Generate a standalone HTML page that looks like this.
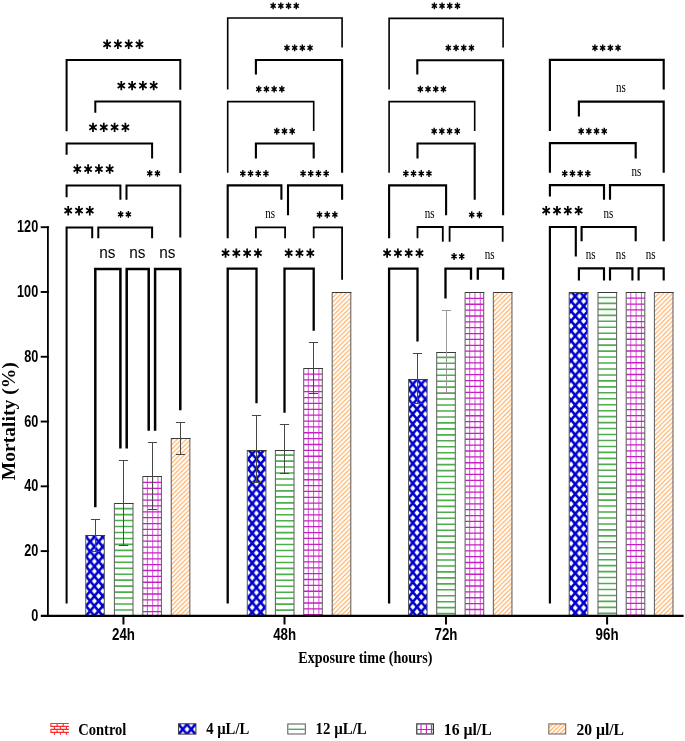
<!DOCTYPE html><html><head><meta charset="utf-8"><style>html,body{margin:0;padding:0;background:#fff;overflow:hidden}svg{display:block;will-change:transform}</style></head><body><svg width="685" height="741" viewBox="0 0 685 741"><defs><pattern id="pB0" patternUnits="userSpaceOnUse" x="86.000" y="541.655" width="8.4" height="9.89"><rect width="8.4" height="9.89" fill="#0000cc"/><path d="M4.200 1.978L6.720 4.945L4.200 7.912L1.680 4.945ZM0.000 -2.967L2.520 0.000L0.000 2.967L-2.520 0.000ZM8.400 -2.967L10.920 0.000L8.400 2.967L5.880 0.000ZM0.000 6.923L2.520 9.890L0.000 12.857L-2.520 9.890ZM8.400 6.923L10.920 9.890L8.400 12.857L5.880 9.890Z" fill="#fff"/></pattern><pattern id="pB1" patternUnits="userSpaceOnUse" x="248.000" y="454.055" width="8.4" height="9.89"><rect width="8.4" height="9.89" fill="#0000cc"/><path d="M4.200 1.978L6.720 4.945L4.200 7.912L1.680 4.945ZM0.000 -2.967L2.520 0.000L0.000 2.967L-2.520 0.000ZM8.400 -2.967L10.920 0.000L8.400 2.967L5.880 0.000ZM0.000 6.923L2.520 9.890L0.000 12.857L-2.520 9.890ZM8.400 6.923L10.920 9.890L8.400 12.857L5.880 9.890Z" fill="#fff"/></pattern><pattern id="pB2" patternUnits="userSpaceOnUse" x="408.600" y="384.355" width="8.4" height="9.89"><rect width="8.4" height="9.89" fill="#0000cc"/><path d="M4.200 1.978L6.720 4.945L4.200 7.912L1.680 4.945ZM0.000 -2.967L2.520 0.000L0.000 2.967L-2.520 0.000ZM8.400 -2.967L10.920 0.000L8.400 2.967L5.880 0.000ZM0.000 6.923L2.520 9.890L0.000 12.857L-2.520 9.890ZM8.400 6.923L10.920 9.890L8.400 12.857L5.880 9.890Z" fill="#fff"/></pattern><pattern id="pB3" patternUnits="userSpaceOnUse" x="571.050" y="306.155" width="8.4" height="9.89"><rect width="8.4" height="9.89" fill="#0000cc"/><path d="M4.200 1.978L6.720 4.945L4.200 7.912L1.680 4.945ZM0.000 -2.967L2.520 0.000L0.000 2.967L-2.520 0.000ZM8.400 -2.967L10.920 0.000L8.400 2.967L5.880 0.000ZM0.000 6.923L2.520 9.890L0.000 12.857L-2.520 9.890ZM8.400 6.923L10.920 9.890L8.400 12.857L5.880 9.890Z" fill="#fff"/></pattern><pattern id="pBL" patternUnits="userSpaceOnUse" x="182.800" y="724.355" width="8.4" height="9.89"><rect width="8.4" height="9.89" fill="#0000cc"/><path d="M4.200 1.978L6.720 4.945L4.200 7.912L1.680 4.945ZM0.000 -2.967L2.520 0.000L0.000 2.967L-2.520 0.000ZM8.400 -2.967L10.920 0.000L8.400 2.967L5.880 0.000ZM0.000 6.923L2.520 9.890L0.000 12.857L-2.520 9.890ZM8.400 6.923L10.920 9.890L8.400 12.857L5.880 9.890Z" fill="#fff"/></pattern><pattern id="pO" patternUnits="userSpaceOnUse" width="4.6" height="4.6"><rect width="4.6" height="4.6" fill="#fff"/><path d="M-1 1L1 -1M0 4.6L4.6 0M3.6 5.6L5.6 3.6" stroke="#ffa044" stroke-width="0.95"/></pattern><pattern id="pOL" patternUnits="userSpaceOnUse" width="4.2" height="4.2"><rect width="4.2" height="4.2" fill="#fff"/><path d="M-1 1L1 -1M0 4.2L4.2 0M3.2 5.2L5.2 3.2" stroke="#ffa850" stroke-width="1.1"/></pattern></defs><rect width="685" height="741" fill="#fff"/><rect x="85.75" y="535.20" width="18.6" height="80.70" fill="url(#pB0)"/><path d="M85.75 535.20V615.90" stroke="#606060" stroke-width="1.05"/><path d="M104.35 535.20V615.90" stroke="#606060" stroke-width="1.05"/><path d="M85.55 535.50H105.05" stroke="#3a3a3a" stroke-width="1.05"/><rect x="114.40" y="503.50" width="18.6" height="112.40" fill="#fff"/><path d="M114.40 508.65H133.00M114.40 514.61H133.00M114.40 520.57H133.00M114.40 526.53H133.00M114.40 532.49H133.00M114.40 538.45H133.00M114.40 544.41H133.00M114.40 550.37H133.00M114.40 556.33H133.00M114.40 562.29H133.00M114.40 568.25H133.00M114.40 574.21H133.00M114.40 580.17H133.00M114.40 586.13H133.00M114.40 592.09H133.00M114.40 598.05H133.00M114.40 604.01H133.00M114.40 609.97H133.00" stroke="#4caf4c" stroke-width="1.6"/><path d="M114.40 503.50V615.90" stroke="#606060" stroke-width="1.05"/><path d="M133.00 503.50V615.90" stroke="#606060" stroke-width="1.05"/><path d="M114.20 503.50H133.70" stroke="#3a3a3a" stroke-width="1.05"/><rect x="142.80" y="476.60" width="18.6" height="139.30" fill="#fff"/><path d="M147.40 476.60V615.90M152.70 476.60V615.90M158.00 476.60V615.90" stroke="#c81ec8" stroke-width="0.95" opacity="0.8"/><path d="M142.80 482.47H161.40M142.80 488.34H161.40M142.80 494.21H161.40M142.80 500.08H161.40M142.80 505.95H161.40M142.80 511.82H161.40M142.80 517.69H161.40M142.80 523.56H161.40M142.80 529.43H161.40M142.80 535.30H161.40M142.80 541.17H161.40M142.80 547.04H161.40M142.80 552.91H161.40M142.80 558.78H161.40M142.80 564.65H161.40M142.80 570.52H161.40M142.80 576.39H161.40M142.80 582.26H161.40M142.80 588.13H161.40M142.80 594.00H161.40M142.80 599.87H161.40M142.80 605.74H161.40M142.80 611.61H161.40" stroke="#c81ec8" stroke-width="1.3"/><path d="M142.80 476.60V615.90" stroke="#606060" stroke-width="1.05"/><path d="M161.40 476.60V615.90" stroke="#606060" stroke-width="1.05"/><path d="M142.60 476.50H162.10" stroke="#3a3a3a" stroke-width="1.05"/><rect x="171.25" y="438.20" width="18.6" height="177.70" fill="url(#pO)"/><path d="M171.25 438.20V615.90" stroke="#606060" stroke-width="1.05"/><path d="M189.85 438.20V615.90" stroke="#606060" stroke-width="1.05"/><path d="M171.05 438.50H190.55" stroke="#3a3a3a" stroke-width="1.05"/><rect x="247.30" y="450.00" width="18.6" height="165.90" fill="url(#pB1)"/><path d="M247.30 450.00V615.90" stroke="#606060" stroke-width="1.05"/><path d="M265.90 450.00V615.90" stroke="#606060" stroke-width="1.05"/><path d="M247.10 450.50H266.60" stroke="#3a3a3a" stroke-width="1.05"/><rect x="275.40" y="450.00" width="18.6" height="165.90" fill="#fff"/><path d="M275.40 455.15H294.00M275.40 461.11H294.00M275.40 467.07H294.00M275.40 473.03H294.00M275.40 478.99H294.00M275.40 484.95H294.00M275.40 490.91H294.00M275.40 496.87H294.00M275.40 502.83H294.00M275.40 508.79H294.00M275.40 514.75H294.00M275.40 520.71H294.00M275.40 526.67H294.00M275.40 532.63H294.00M275.40 538.59H294.00M275.40 544.55H294.00M275.40 550.51H294.00M275.40 556.47H294.00M275.40 562.43H294.00M275.40 568.39H294.00M275.40 574.35H294.00M275.40 580.31H294.00M275.40 586.27H294.00M275.40 592.23H294.00M275.40 598.19H294.00M275.40 604.15H294.00M275.40 610.11H294.00" stroke="#4caf4c" stroke-width="1.6"/><path d="M275.40 450.00V615.90" stroke="#606060" stroke-width="1.05"/><path d="M294.00 450.00V615.90" stroke="#606060" stroke-width="1.05"/><path d="M275.20 450.50H294.70" stroke="#3a3a3a" stroke-width="1.05"/><rect x="303.70" y="368.20" width="18.6" height="247.70" fill="#fff"/><path d="M308.30 368.20V615.90M313.60 368.20V615.90M318.90 368.20V615.90" stroke="#c81ec8" stroke-width="0.95" opacity="0.8"/><path d="M303.70 374.07H322.30M303.70 379.94H322.30M303.70 385.81H322.30M303.70 391.68H322.30M303.70 397.55H322.30M303.70 403.42H322.30M303.70 409.29H322.30M303.70 415.16H322.30M303.70 421.03H322.30M303.70 426.90H322.30M303.70 432.77H322.30M303.70 438.64H322.30M303.70 444.51H322.30M303.70 450.38H322.30M303.70 456.25H322.30M303.70 462.12H322.30M303.70 467.99H322.30M303.70 473.86H322.30M303.70 479.73H322.30M303.70 485.60H322.30M303.70 491.47H322.30M303.70 497.34H322.30M303.70 503.21H322.30M303.70 509.08H322.30M303.70 514.95H322.30M303.70 520.82H322.30M303.70 526.69H322.30M303.70 532.56H322.30M303.70 538.43H322.30M303.70 544.30H322.30M303.70 550.17H322.30M303.70 556.04H322.30M303.70 561.91H322.30M303.70 567.78H322.30M303.70 573.65H322.30M303.70 579.52H322.30M303.70 585.39H322.30M303.70 591.26H322.30M303.70 597.13H322.30M303.70 603.00H322.30M303.70 608.87H322.30M303.70 614.74H322.30" stroke="#c81ec8" stroke-width="1.3"/><path d="M303.70 368.20V615.90" stroke="#606060" stroke-width="1.05"/><path d="M322.30 368.20V615.90" stroke="#606060" stroke-width="1.05"/><path d="M303.50 368.50H323.00" stroke="#3a3a3a" stroke-width="1.05"/><rect x="332.20" y="292.50" width="18.6" height="323.40" fill="url(#pO)"/><path d="M332.20 292.50V615.90" stroke="#606060" stroke-width="1.05"/><path d="M350.80 292.50V615.90" stroke="#606060" stroke-width="1.05"/><path d="M332.00 292.50H351.50" stroke="#3a3a3a" stroke-width="1.05"/><rect x="408.50" y="379.40" width="18.6" height="236.50" fill="url(#pB2)"/><path d="M408.50 379.40V615.90" stroke="#606060" stroke-width="1.05"/><path d="M427.10 379.40V615.90" stroke="#606060" stroke-width="1.05"/><path d="M408.30 379.50H427.80" stroke="#3a3a3a" stroke-width="1.05"/><rect x="436.70" y="352.20" width="18.6" height="263.70" fill="#fff"/><path d="M436.70 357.35H455.30M436.70 363.31H455.30M436.70 369.27H455.30M436.70 375.23H455.30M436.70 381.19H455.30M436.70 387.15H455.30M436.70 393.11H455.30M436.70 399.07H455.30M436.70 405.03H455.30M436.70 410.99H455.30M436.70 416.95H455.30M436.70 422.91H455.30M436.70 428.87H455.30M436.70 434.83H455.30M436.70 440.79H455.30M436.70 446.75H455.30M436.70 452.71H455.30M436.70 458.67H455.30M436.70 464.63H455.30M436.70 470.59H455.30M436.70 476.55H455.30M436.70 482.51H455.30M436.70 488.47H455.30M436.70 494.43H455.30M436.70 500.39H455.30M436.70 506.35H455.30M436.70 512.31H455.30M436.70 518.27H455.30M436.70 524.23H455.30M436.70 530.19H455.30M436.70 536.15H455.30M436.70 542.11H455.30M436.70 548.07H455.30M436.70 554.03H455.30M436.70 559.99H455.30M436.70 565.95H455.30M436.70 571.91H455.30M436.70 577.87H455.30M436.70 583.83H455.30M436.70 589.79H455.30M436.70 595.75H455.30M436.70 601.71H455.30M436.70 607.67H455.30M436.70 613.63H455.30" stroke="#4caf4c" stroke-width="1.6"/><path d="M436.70 352.20V615.90" stroke="#606060" stroke-width="1.05"/><path d="M455.30 352.20V615.90" stroke="#606060" stroke-width="1.05"/><path d="M436.50 352.50H456.00" stroke="#3a3a3a" stroke-width="1.05"/><rect x="465.10" y="292.50" width="18.6" height="323.40" fill="#fff"/><path d="M469.70 292.50V615.90M475.00 292.50V615.90M480.30 292.50V615.90" stroke="#c81ec8" stroke-width="0.95" opacity="0.8"/><path d="M465.10 298.37H483.70M465.10 304.24H483.70M465.10 310.11H483.70M465.10 315.98H483.70M465.10 321.85H483.70M465.10 327.72H483.70M465.10 333.59H483.70M465.10 339.46H483.70M465.10 345.33H483.70M465.10 351.20H483.70M465.10 357.07H483.70M465.10 362.94H483.70M465.10 368.81H483.70M465.10 374.68H483.70M465.10 380.55H483.70M465.10 386.42H483.70M465.10 392.29H483.70M465.10 398.16H483.70M465.10 404.03H483.70M465.10 409.90H483.70M465.10 415.77H483.70M465.10 421.64H483.70M465.10 427.51H483.70M465.10 433.38H483.70M465.10 439.25H483.70M465.10 445.12H483.70M465.10 450.99H483.70M465.10 456.86H483.70M465.10 462.73H483.70M465.10 468.60H483.70M465.10 474.47H483.70M465.10 480.34H483.70M465.10 486.21H483.70M465.10 492.08H483.70M465.10 497.95H483.70M465.10 503.82H483.70M465.10 509.69H483.70M465.10 515.56H483.70M465.10 521.43H483.70M465.10 527.30H483.70M465.10 533.17H483.70M465.10 539.04H483.70M465.10 544.91H483.70M465.10 550.78H483.70M465.10 556.65H483.70M465.10 562.52H483.70M465.10 568.39H483.70M465.10 574.26H483.70M465.10 580.13H483.70M465.10 586.00H483.70M465.10 591.87H483.70M465.10 597.74H483.70M465.10 603.61H483.70M465.10 609.48H483.70M465.10 615.35H483.70" stroke="#c81ec8" stroke-width="1.3"/><path d="M465.10 292.50V615.90" stroke="#606060" stroke-width="1.05"/><path d="M483.70 292.50V615.90" stroke="#606060" stroke-width="1.05"/><path d="M464.90 292.50H484.40" stroke="#3a3a3a" stroke-width="1.05"/><rect x="493.35" y="292.50" width="18.6" height="323.40" fill="url(#pO)"/><path d="M493.35 292.50V615.90" stroke="#606060" stroke-width="1.05"/><path d="M511.95 292.50V615.90" stroke="#606060" stroke-width="1.05"/><path d="M493.15 292.50H512.65" stroke="#3a3a3a" stroke-width="1.05"/><rect x="569.20" y="292.30" width="18.6" height="323.60" fill="url(#pB3)"/><path d="M569.20 292.30V615.90" stroke="#606060" stroke-width="1.05"/><path d="M587.80 292.30V615.90" stroke="#606060" stroke-width="1.05"/><path d="M569.00 292.50H588.50" stroke="#3a3a3a" stroke-width="1.05"/><rect x="598.00" y="292.30" width="18.6" height="323.60" fill="#fff"/><path d="M598.00 297.45H616.60M598.00 303.41H616.60M598.00 309.37H616.60M598.00 315.33H616.60M598.00 321.29H616.60M598.00 327.25H616.60M598.00 333.21H616.60M598.00 339.17H616.60M598.00 345.13H616.60M598.00 351.09H616.60M598.00 357.05H616.60M598.00 363.01H616.60M598.00 368.97H616.60M598.00 374.93H616.60M598.00 380.89H616.60M598.00 386.85H616.60M598.00 392.81H616.60M598.00 398.77H616.60M598.00 404.73H616.60M598.00 410.69H616.60M598.00 416.65H616.60M598.00 422.61H616.60M598.00 428.57H616.60M598.00 434.53H616.60M598.00 440.49H616.60M598.00 446.45H616.60M598.00 452.41H616.60M598.00 458.37H616.60M598.00 464.33H616.60M598.00 470.29H616.60M598.00 476.25H616.60M598.00 482.21H616.60M598.00 488.17H616.60M598.00 494.13H616.60M598.00 500.09H616.60M598.00 506.05H616.60M598.00 512.01H616.60M598.00 517.97H616.60M598.00 523.93H616.60M598.00 529.89H616.60M598.00 535.85H616.60M598.00 541.81H616.60M598.00 547.77H616.60M598.00 553.73H616.60M598.00 559.69H616.60M598.00 565.65H616.60M598.00 571.61H616.60M598.00 577.57H616.60M598.00 583.53H616.60M598.00 589.49H616.60M598.00 595.45H616.60M598.00 601.41H616.60M598.00 607.37H616.60M598.00 613.33H616.60" stroke="#4caf4c" stroke-width="1.6"/><path d="M598.00 292.30V615.90" stroke="#606060" stroke-width="1.05"/><path d="M616.60 292.30V615.90" stroke="#606060" stroke-width="1.05"/><path d="M597.80 292.50H617.30" stroke="#3a3a3a" stroke-width="1.05"/><rect x="626.20" y="292.30" width="18.6" height="323.60" fill="#fff"/><path d="M630.80 292.30V615.90M636.10 292.30V615.90M641.40 292.30V615.90" stroke="#c81ec8" stroke-width="0.95" opacity="0.8"/><path d="M626.20 298.17H644.80M626.20 304.04H644.80M626.20 309.91H644.80M626.20 315.78H644.80M626.20 321.65H644.80M626.20 327.52H644.80M626.20 333.39H644.80M626.20 339.26H644.80M626.20 345.13H644.80M626.20 351.00H644.80M626.20 356.87H644.80M626.20 362.74H644.80M626.20 368.61H644.80M626.20 374.48H644.80M626.20 380.35H644.80M626.20 386.22H644.80M626.20 392.09H644.80M626.20 397.96H644.80M626.20 403.83H644.80M626.20 409.70H644.80M626.20 415.57H644.80M626.20 421.44H644.80M626.20 427.31H644.80M626.20 433.18H644.80M626.20 439.05H644.80M626.20 444.92H644.80M626.20 450.79H644.80M626.20 456.66H644.80M626.20 462.53H644.80M626.20 468.40H644.80M626.20 474.27H644.80M626.20 480.14H644.80M626.20 486.01H644.80M626.20 491.88H644.80M626.20 497.75H644.80M626.20 503.62H644.80M626.20 509.49H644.80M626.20 515.36H644.80M626.20 521.23H644.80M626.20 527.10H644.80M626.20 532.97H644.80M626.20 538.84H644.80M626.20 544.71H644.80M626.20 550.58H644.80M626.20 556.45H644.80M626.20 562.32H644.80M626.20 568.19H644.80M626.20 574.06H644.80M626.20 579.93H644.80M626.20 585.80H644.80M626.20 591.67H644.80M626.20 597.54H644.80M626.20 603.41H644.80M626.20 609.28H644.80M626.20 615.15H644.80" stroke="#c81ec8" stroke-width="1.3"/><path d="M626.20 292.30V615.90" stroke="#606060" stroke-width="1.05"/><path d="M644.80 292.30V615.90" stroke="#606060" stroke-width="1.05"/><path d="M626.00 292.50H645.50" stroke="#3a3a3a" stroke-width="1.05"/><rect x="654.40" y="292.30" width="18.6" height="323.60" fill="url(#pO)"/><path d="M654.40 292.30V615.90" stroke="#606060" stroke-width="1.05"/><path d="M673.00 292.30V615.90" stroke="#606060" stroke-width="1.05"/><path d="M654.20 292.50H673.70" stroke="#3a3a3a" stroke-width="1.05"/><path d="M95.50 519.50V551.50M90.90 519.50H100.10M90.90 551.50H100.10" stroke="#474747" stroke-width="1.0" fill="none"/><path d="M123.50 460.50V545.50M118.90 460.50H128.10M118.90 545.50H128.10" stroke="#474747" stroke-width="1.0" fill="none"/><path d="M152.50 442.50V509.50M147.90 442.50H157.10M147.90 509.50H157.10" stroke="#474747" stroke-width="1.0" fill="none"/><path d="M180.50 422.50V454.50M175.90 422.50H185.10M175.90 454.50H185.10" stroke="#474747" stroke-width="1.0" fill="none"/><path d="M256.50 415.50V482.50M251.90 415.50H261.10M251.90 482.50H261.10" stroke="#474747" stroke-width="1.0" fill="none"/><path d="M284.50 424.50V473.50M279.90 424.50H289.10M279.90 473.50H289.10" stroke="#474747" stroke-width="1.0" fill="none"/><path d="M313.50 342.50V393.50M308.90 342.50H318.10M308.90 393.50H318.10" stroke="#474747" stroke-width="1.0" fill="none"/><path d="M417.50 353.50V403.50M412.90 353.50H422.10M412.90 403.50H422.10" stroke="#474747" stroke-width="1.0" fill="none"/><path d="M446.50 310.50V392.50M441.90 310.50H451.10M441.90 392.50H451.10" stroke="#999" stroke-width="1.0" fill="none"/><path d="M66.60 131.20V60.00H180.30V89.70" stroke="#000" stroke-width="2.0" fill="none" stroke-linejoin="miter"/><path d="M107.10 39.60V49.00M103.40 41.95L110.80 46.65M103.40 46.65L110.80 41.95" stroke="#000" stroke-width="1.75" fill="none"/><circle cx="107.10" cy="44.30" r="1.49" fill="#000"/><path d="M117.90 39.60V49.00M114.20 41.95L121.60 46.65M114.20 46.65L121.60 41.95" stroke="#000" stroke-width="1.75" fill="none"/><circle cx="117.90" cy="44.30" r="1.49" fill="#000"/><path d="M128.70 39.60V49.00M125.00 41.95L132.40 46.65M125.00 46.65L132.40 41.95" stroke="#000" stroke-width="1.75" fill="none"/><circle cx="128.70" cy="44.30" r="1.49" fill="#000"/><path d="M139.50 39.60V49.00M135.80 41.95L143.20 46.65M135.80 46.65L143.20 41.95" stroke="#000" stroke-width="1.75" fill="none"/><circle cx="139.50" cy="44.30" r="1.49" fill="#000"/><path d="M95.30 112.80V101.50H180.30V173.10" stroke="#000" stroke-width="2.0" fill="none" stroke-linejoin="miter"/><path d="M121.30 80.95V90.35M117.60 83.30L125.00 88.00M117.60 88.00L125.00 83.30" stroke="#000" stroke-width="1.75" fill="none"/><circle cx="121.30" cy="85.65" r="1.49" fill="#000"/><path d="M132.10 80.95V90.35M128.40 83.30L135.80 88.00M128.40 88.00L135.80 83.30" stroke="#000" stroke-width="1.75" fill="none"/><circle cx="132.10" cy="85.65" r="1.49" fill="#000"/><path d="M142.90 80.95V90.35M139.20 83.30L146.60 88.00M139.20 88.00L146.60 83.30" stroke="#000" stroke-width="1.75" fill="none"/><circle cx="142.90" cy="85.65" r="1.49" fill="#000"/><path d="M153.70 80.95V90.35M150.00 83.30L157.40 88.00M150.00 88.00L157.40 83.30" stroke="#000" stroke-width="1.75" fill="none"/><circle cx="153.70" cy="85.65" r="1.49" fill="#000"/><path d="M66.60 154.70V143.50H152.10V158.40" stroke="#000" stroke-width="2.0" fill="none" stroke-linejoin="miter"/><path d="M93.00 122.70V132.10M89.30 125.05L96.70 129.75M89.30 129.75L96.70 125.05" stroke="#000" stroke-width="1.75" fill="none"/><circle cx="93.00" cy="127.40" r="1.49" fill="#000"/><path d="M103.80 122.70V132.10M100.10 125.05L107.50 129.75M100.10 129.75L107.50 125.05" stroke="#000" stroke-width="1.75" fill="none"/><circle cx="103.80" cy="127.40" r="1.49" fill="#000"/><path d="M114.60 122.70V132.10M110.90 125.05L118.30 129.75M110.90 129.75L118.30 125.05" stroke="#000" stroke-width="1.75" fill="none"/><circle cx="114.60" cy="127.40" r="1.49" fill="#000"/><path d="M125.40 122.70V132.10M121.70 125.05L129.10 129.75M121.70 129.75L129.10 125.05" stroke="#000" stroke-width="1.75" fill="none"/><circle cx="125.40" cy="127.40" r="1.49" fill="#000"/><path d="M66.60 197.30V185.40H120.40V199.70" stroke="#000" stroke-width="2.0" fill="none" stroke-linejoin="miter"/><path d="M77.30 164.35V173.75M73.60 166.70L81.00 171.40M73.60 171.40L81.00 166.70" stroke="#000" stroke-width="1.75" fill="none"/><circle cx="77.30" cy="169.05" r="1.49" fill="#000"/><path d="M88.10 164.35V173.75M84.40 166.70L91.80 171.40M84.40 171.40L91.80 166.70" stroke="#000" stroke-width="1.75" fill="none"/><circle cx="88.10" cy="169.05" r="1.49" fill="#000"/><path d="M98.90 164.35V173.75M95.20 166.70L102.60 171.40M95.20 171.40L102.60 166.70" stroke="#000" stroke-width="1.75" fill="none"/><circle cx="98.90" cy="169.05" r="1.49" fill="#000"/><path d="M109.70 164.35V173.75M106.00 166.70L113.40 171.40M106.00 171.40L113.40 166.70" stroke="#000" stroke-width="1.75" fill="none"/><circle cx="109.70" cy="169.05" r="1.49" fill="#000"/><path d="M126.50 199.70V185.40H180.30V237.60" stroke="#000" stroke-width="2.0" fill="none" stroke-linejoin="miter"/><path d="M149.75 169.95V176.85M147.15 171.68L152.35 175.12M147.15 175.12L152.35 171.68" stroke="#000" stroke-width="1.45" fill="none"/><circle cx="149.75" cy="173.40" r="1.23" fill="#000"/><path d="M157.45 169.95V176.85M154.85 171.68L160.05 175.12M154.85 175.12L160.05 171.68" stroke="#000" stroke-width="1.45" fill="none"/><circle cx="157.45" cy="173.40" r="1.23" fill="#000"/><path d="M66.60 603.60V227.40H92.20V238.20" stroke="#000" stroke-width="2.0" fill="none" stroke-linejoin="miter"/><path d="M68.20 206.00V215.40M64.50 208.35L71.90 213.05M64.50 213.05L71.90 208.35" stroke="#000" stroke-width="1.75" fill="none"/><circle cx="68.20" cy="210.70" r="1.49" fill="#000"/><path d="M79.00 206.00V215.40M75.30 208.35L82.70 213.05M75.30 213.05L82.70 208.35" stroke="#000" stroke-width="1.75" fill="none"/><circle cx="79.00" cy="210.70" r="1.49" fill="#000"/><path d="M89.80 206.00V215.40M86.10 208.35L93.50 213.05M86.10 213.05L93.50 208.35" stroke="#000" stroke-width="1.75" fill="none"/><circle cx="89.80" cy="210.70" r="1.49" fill="#000"/><path d="M98.30 238.20V227.40H152.10V238.20" stroke="#000" stroke-width="2.0" fill="none" stroke-linejoin="miter"/><path d="M120.65 210.90V217.80M118.05 212.62L123.25 216.07M118.05 216.07L123.25 212.62" stroke="#000" stroke-width="1.45" fill="none"/><circle cx="120.65" cy="214.35" r="1.23" fill="#000"/><path d="M128.35 210.90V217.80M125.75 212.62L130.95 216.07M125.75 216.07L130.95 212.62" stroke="#000" stroke-width="1.45" fill="none"/><circle cx="128.35" cy="214.35" r="1.23" fill="#000"/><path d="M95.30 507.20V269.10H120.40V448.60" stroke="#000" stroke-width="2.5" fill="none" stroke-linejoin="miter"/><text x="0" y="0" font-family="Liberation Sans" font-weight="normal" font-size="100" fill="#000" transform="translate(99.223 257.737) scale(0.15370 0.16550)">ns</text><path d="M126.70 448.60V269.10H148.70V430.70" stroke="#000" stroke-width="2.5" fill="none" stroke-linejoin="miter"/><text x="0" y="0" font-family="Liberation Sans" font-weight="normal" font-size="100" fill="#000" transform="translate(129.223 257.737) scale(0.15370 0.16550)">ns</text><path d="M155.10 430.70V269.10H180.30V410.20" stroke="#000" stroke-width="2.5" fill="none" stroke-linejoin="miter"/><text x="0" y="0" font-family="Liberation Sans" font-weight="normal" font-size="100" fill="#000" transform="translate(159.323 257.737) scale(0.15370 0.16550)">ns</text><path d="M227.70 89.50V18.00H342.10V47.60" stroke="#000" stroke-width="1.6" fill="none" stroke-linejoin="miter"/><path d="M273.15 2.40V9.30M270.55 4.12L275.75 7.57M270.55 7.57L275.75 4.12" stroke="#000" stroke-width="1.45" fill="none"/><circle cx="273.15" cy="5.85" r="1.23" fill="#000"/><path d="M280.85 2.40V9.30M278.25 4.12L283.45 7.57M278.25 7.57L283.45 4.12" stroke="#000" stroke-width="1.45" fill="none"/><circle cx="280.85" cy="5.85" r="1.23" fill="#000"/><path d="M288.55 2.40V9.30M285.95 4.12L291.15 7.57M285.95 7.57L291.15 4.12" stroke="#000" stroke-width="1.45" fill="none"/><circle cx="288.55" cy="5.85" r="1.23" fill="#000"/><path d="M296.25 2.40V9.30M293.65 4.12L298.85 7.57M293.65 7.57L298.85 4.12" stroke="#000" stroke-width="1.45" fill="none"/><circle cx="296.25" cy="5.85" r="1.23" fill="#000"/><path d="M255.90 74.60V60.05H342.10V172.80" stroke="#000" stroke-width="2.1" fill="none" stroke-linejoin="miter"/><path d="M286.95 44.40V51.30M284.35 46.12L289.55 49.58M284.35 49.58L289.55 46.12" stroke="#000" stroke-width="1.45" fill="none"/><circle cx="286.95" cy="47.85" r="1.23" fill="#000"/><path d="M294.65 44.40V51.30M292.05 46.12L297.25 49.58M292.05 49.58L297.25 46.12" stroke="#000" stroke-width="1.45" fill="none"/><circle cx="294.65" cy="47.85" r="1.23" fill="#000"/><path d="M302.35 44.40V51.30M299.75 46.12L304.95 49.58M299.75 49.58L304.95 46.12" stroke="#000" stroke-width="1.45" fill="none"/><circle cx="302.35" cy="47.85" r="1.23" fill="#000"/><path d="M310.05 44.40V51.30M307.45 46.12L312.65 49.58M307.45 49.58L312.65 46.12" stroke="#000" stroke-width="1.45" fill="none"/><circle cx="310.05" cy="47.85" r="1.23" fill="#000"/><path d="M227.70 172.80V101.60H313.70V130.90" stroke="#000" stroke-width="1.6" fill="none" stroke-linejoin="miter"/><path d="M258.75 85.65V92.55M256.15 87.38L261.35 90.82M256.15 90.82L261.35 87.38" stroke="#000" stroke-width="1.45" fill="none"/><circle cx="258.75" cy="89.10" r="1.23" fill="#000"/><path d="M266.45 85.65V92.55M263.85 87.38L269.05 90.82M263.85 90.82L269.05 87.38" stroke="#000" stroke-width="1.45" fill="none"/><circle cx="266.45" cy="89.10" r="1.23" fill="#000"/><path d="M274.15 85.65V92.55M271.55 87.38L276.75 90.82M271.55 90.82L276.75 87.38" stroke="#000" stroke-width="1.45" fill="none"/><circle cx="274.15" cy="89.10" r="1.23" fill="#000"/><path d="M281.85 85.65V92.55M279.25 87.38L284.45 90.82M279.25 90.82L284.45 87.38" stroke="#000" stroke-width="1.45" fill="none"/><circle cx="281.85" cy="89.10" r="1.23" fill="#000"/><path d="M255.90 158.50V143.45H313.70V158.50" stroke="#000" stroke-width="2.1" fill="none" stroke-linejoin="miter"/><path d="M276.80 127.75V134.65M274.20 129.47L279.40 132.92M274.20 132.92L279.40 129.47" stroke="#000" stroke-width="1.45" fill="none"/><circle cx="276.80" cy="131.20" r="1.23" fill="#000"/><path d="M284.50 127.75V134.65M281.90 129.47L287.10 132.92M281.90 132.92L287.10 129.47" stroke="#000" stroke-width="1.45" fill="none"/><circle cx="284.50" cy="131.20" r="1.23" fill="#000"/><path d="M292.20 127.75V134.65M289.60 129.47L294.80 132.92M289.60 132.92L294.80 129.47" stroke="#000" stroke-width="1.45" fill="none"/><circle cx="292.20" cy="131.20" r="1.23" fill="#000"/><path d="M227.70 238.20V185.35H281.40V199.80" stroke="#000" stroke-width="2.1" fill="none" stroke-linejoin="miter"/><path d="M242.85 170.05V176.95M240.25 171.78L245.45 175.22M240.25 175.22L245.45 171.78" stroke="#000" stroke-width="1.45" fill="none"/><circle cx="242.85" cy="173.50" r="1.23" fill="#000"/><path d="M250.55 170.05V176.95M247.95 171.78L253.15 175.22M247.95 175.22L253.15 171.78" stroke="#000" stroke-width="1.45" fill="none"/><circle cx="250.55" cy="173.50" r="1.23" fill="#000"/><path d="M258.25 170.05V176.95M255.65 171.78L260.85 175.22M255.65 175.22L260.85 171.78" stroke="#000" stroke-width="1.45" fill="none"/><circle cx="258.25" cy="173.50" r="1.23" fill="#000"/><path d="M265.95 170.05V176.95M263.35 171.78L268.55 175.22M263.35 175.22L268.55 171.78" stroke="#000" stroke-width="1.45" fill="none"/><circle cx="265.95" cy="173.50" r="1.23" fill="#000"/><path d="M288.00 215.20V185.35H342.10V199.80" stroke="#000" stroke-width="2.1" fill="none" stroke-linejoin="miter"/><path d="M303.05 170.05V176.95M300.45 171.78L305.65 175.22M300.45 175.22L305.65 171.78" stroke="#000" stroke-width="1.45" fill="none"/><circle cx="303.05" cy="173.50" r="1.23" fill="#000"/><path d="M310.75 170.05V176.95M308.15 171.78L313.35 175.22M308.15 175.22L313.35 171.78" stroke="#000" stroke-width="1.45" fill="none"/><circle cx="310.75" cy="173.50" r="1.23" fill="#000"/><path d="M318.45 170.05V176.95M315.85 171.78L321.05 175.22M315.85 175.22L321.05 171.78" stroke="#000" stroke-width="1.45" fill="none"/><circle cx="318.45" cy="173.50" r="1.23" fill="#000"/><path d="M326.15 170.05V176.95M323.55 171.78L328.75 175.22M323.55 175.22L328.75 171.78" stroke="#000" stroke-width="1.45" fill="none"/><circle cx="326.15" cy="173.50" r="1.23" fill="#000"/><path d="M255.90 238.20V227.40H285.10V238.20" stroke="#000" stroke-width="1.8" fill="none" stroke-linejoin="miter"/><text x="0" y="0" font-family="Liberation Serif" font-weight="normal" font-size="100" fill="#000" transform="translate(265.172 217.562) scale(0.11100 0.14600)">ns</text><path d="M313.70 238.20V227.40H342.10V279.80" stroke="#000" stroke-width="1.8" fill="none" stroke-linejoin="miter"/><path d="M319.50 211.30V218.20M316.90 213.03L322.10 216.47M316.90 216.47L322.10 213.03" stroke="#000" stroke-width="1.45" fill="none"/><circle cx="319.50" cy="214.75" r="1.23" fill="#000"/><path d="M327.20 211.30V218.20M324.60 213.03L329.80 216.47M324.60 216.47L329.80 213.03" stroke="#000" stroke-width="1.45" fill="none"/><circle cx="327.20" cy="214.75" r="1.23" fill="#000"/><path d="M334.90 211.30V218.20M332.30 213.03L337.50 216.47M332.30 216.47L337.50 213.03" stroke="#000" stroke-width="1.45" fill="none"/><circle cx="334.90" cy="214.75" r="1.23" fill="#000"/><path d="M227.70 603.60V268.70H256.50V403.30" stroke="#000" stroke-width="2.3" fill="none" stroke-linejoin="miter"/><path d="M225.55 248.40V257.80M221.85 250.75L229.25 255.45M221.85 255.45L229.25 250.75" stroke="#000" stroke-width="1.75" fill="none"/><circle cx="225.55" cy="253.10" r="1.49" fill="#000"/><path d="M236.35 248.40V257.80M232.65 250.75L240.05 255.45M232.65 255.45L240.05 250.75" stroke="#000" stroke-width="1.75" fill="none"/><circle cx="236.35" cy="253.10" r="1.49" fill="#000"/><path d="M247.15 248.40V257.80M243.45 250.75L250.85 255.45M243.45 255.45L250.85 250.75" stroke="#000" stroke-width="1.75" fill="none"/><circle cx="247.15" cy="253.10" r="1.49" fill="#000"/><path d="M257.95 248.40V257.80M254.25 250.75L261.65 255.45M254.25 255.45L261.65 250.75" stroke="#000" stroke-width="1.75" fill="none"/><circle cx="257.95" cy="253.10" r="1.49" fill="#000"/><path d="M284.50 412.70V268.70H313.70V330.70" stroke="#000" stroke-width="2.3" fill="none" stroke-linejoin="miter"/><path d="M288.70 248.40V257.80M285.00 250.75L292.40 255.45M285.00 255.45L292.40 250.75" stroke="#000" stroke-width="1.75" fill="none"/><circle cx="288.70" cy="253.10" r="1.49" fill="#000"/><path d="M299.50 248.40V257.80M295.80 250.75L303.20 255.45M295.80 255.45L303.20 250.75" stroke="#000" stroke-width="1.75" fill="none"/><circle cx="299.50" cy="253.10" r="1.49" fill="#000"/><path d="M310.30 248.40V257.80M306.60 250.75L314.00 255.45M306.60 255.45L314.00 250.75" stroke="#000" stroke-width="1.75" fill="none"/><circle cx="310.30" cy="253.10" r="1.49" fill="#000"/><path d="M389.10 89.50V18.40H503.10V47.60" stroke="#000" stroke-width="1.6" fill="none" stroke-linejoin="miter"/><path d="M434.35 2.40V9.30M431.75 4.12L436.95 7.57M431.75 7.57L436.95 4.12" stroke="#000" stroke-width="1.45" fill="none"/><circle cx="434.35" cy="5.85" r="1.23" fill="#000"/><path d="M442.05 2.40V9.30M439.45 4.12L444.65 7.57M439.45 7.57L444.65 4.12" stroke="#000" stroke-width="1.45" fill="none"/><circle cx="442.05" cy="5.85" r="1.23" fill="#000"/><path d="M449.75 2.40V9.30M447.15 4.12L452.35 7.57M447.15 7.57L452.35 4.12" stroke="#000" stroke-width="1.45" fill="none"/><circle cx="449.75" cy="5.85" r="1.23" fill="#000"/><path d="M457.45 2.40V9.30M454.85 4.12L460.05 7.57M454.85 7.57L460.05 4.12" stroke="#000" stroke-width="1.45" fill="none"/><circle cx="457.45" cy="5.85" r="1.23" fill="#000"/><path d="M417.30 74.60V60.25H503.10V215.20" stroke="#000" stroke-width="2.1" fill="none" stroke-linejoin="miter"/><path d="M448.35 44.40V51.30M445.75 46.12L450.95 49.58M445.75 49.58L450.95 46.12" stroke="#000" stroke-width="1.45" fill="none"/><circle cx="448.35" cy="47.85" r="1.23" fill="#000"/><path d="M456.05 44.40V51.30M453.45 46.12L458.65 49.58M453.45 49.58L458.65 46.12" stroke="#000" stroke-width="1.45" fill="none"/><circle cx="456.05" cy="47.85" r="1.23" fill="#000"/><path d="M463.75 44.40V51.30M461.15 46.12L466.35 49.58M461.15 49.58L466.35 46.12" stroke="#000" stroke-width="1.45" fill="none"/><circle cx="463.75" cy="47.85" r="1.23" fill="#000"/><path d="M471.45 44.40V51.30M468.85 46.12L474.05 49.58M468.85 49.58L474.05 46.12" stroke="#000" stroke-width="1.45" fill="none"/><circle cx="471.45" cy="47.85" r="1.23" fill="#000"/><path d="M389.10 172.80V101.60H474.70V130.90" stroke="#000" stroke-width="1.6" fill="none" stroke-linejoin="miter"/><path d="M420.35 85.65V92.55M417.75 87.38L422.95 90.82M417.75 90.82L422.95 87.38" stroke="#000" stroke-width="1.45" fill="none"/><circle cx="420.35" cy="89.10" r="1.23" fill="#000"/><path d="M428.05 85.65V92.55M425.45 87.38L430.65 90.82M425.45 90.82L430.65 87.38" stroke="#000" stroke-width="1.45" fill="none"/><circle cx="428.05" cy="89.10" r="1.23" fill="#000"/><path d="M435.75 85.65V92.55M433.15 87.38L438.35 90.82M433.15 90.82L438.35 87.38" stroke="#000" stroke-width="1.45" fill="none"/><circle cx="435.75" cy="89.10" r="1.23" fill="#000"/><path d="M443.45 85.65V92.55M440.85 87.38L446.05 90.82M440.85 90.82L446.05 87.38" stroke="#000" stroke-width="1.45" fill="none"/><circle cx="443.45" cy="89.10" r="1.23" fill="#000"/><path d="M417.50 158.50V143.45H474.70V199.80" stroke="#000" stroke-width="2.1" fill="none" stroke-linejoin="miter"/><path d="M434.15 127.75V134.65M431.55 129.47L436.75 132.92M431.55 132.92L436.75 129.47" stroke="#000" stroke-width="1.45" fill="none"/><circle cx="434.15" cy="131.20" r="1.23" fill="#000"/><path d="M441.85 127.75V134.65M439.25 129.47L444.45 132.92M439.25 132.92L444.45 129.47" stroke="#000" stroke-width="1.45" fill="none"/><circle cx="441.85" cy="131.20" r="1.23" fill="#000"/><path d="M449.55 127.75V134.65M446.95 129.47L452.15 132.92M446.95 132.92L452.15 129.47" stroke="#000" stroke-width="1.45" fill="none"/><circle cx="449.55" cy="131.20" r="1.23" fill="#000"/><path d="M457.25 127.75V134.65M454.65 129.47L459.85 132.92M454.65 132.92L459.85 129.47" stroke="#000" stroke-width="1.45" fill="none"/><circle cx="457.25" cy="131.20" r="1.23" fill="#000"/><path d="M389.10 238.20V185.35H446.10V215.20" stroke="#000" stroke-width="2.1" fill="none" stroke-linejoin="miter"/><path d="M405.85 170.05V176.95M403.25 171.78L408.45 175.22M403.25 175.22L408.45 171.78" stroke="#000" stroke-width="1.45" fill="none"/><circle cx="405.85" cy="173.50" r="1.23" fill="#000"/><path d="M413.55 170.05V176.95M410.95 171.78L416.15 175.22M410.95 175.22L416.15 171.78" stroke="#000" stroke-width="1.45" fill="none"/><circle cx="413.55" cy="173.50" r="1.23" fill="#000"/><path d="M421.25 170.05V176.95M418.65 171.78L423.85 175.22M418.65 175.22L423.85 171.78" stroke="#000" stroke-width="1.45" fill="none"/><circle cx="421.25" cy="173.50" r="1.23" fill="#000"/><path d="M428.95 170.05V176.95M426.35 171.78L431.55 175.22M426.35 175.22L431.55 171.78" stroke="#000" stroke-width="1.45" fill="none"/><circle cx="428.95" cy="173.50" r="1.23" fill="#000"/><path d="M417.50 238.20V227.00H442.80V241.70" stroke="#000" stroke-width="1.8" fill="none" stroke-linejoin="miter"/><text x="0" y="0" font-family="Liberation Serif" font-weight="normal" font-size="100" fill="#000" transform="translate(424.772 217.562) scale(0.11100 0.14600)">ns</text><path d="M449.60 241.70V227.00H502.70V241.70" stroke="#000" stroke-width="1.8" fill="none" stroke-linejoin="miter"/><path d="M471.75 211.30V218.20M469.15 213.03L474.35 216.47M469.15 216.47L474.35 213.03" stroke="#000" stroke-width="1.45" fill="none"/><circle cx="471.75" cy="214.75" r="1.23" fill="#000"/><path d="M479.45 211.30V218.20M476.85 213.03L482.05 216.47M476.85 216.47L482.05 213.03" stroke="#000" stroke-width="1.45" fill="none"/><circle cx="479.45" cy="214.75" r="1.23" fill="#000"/><path d="M389.10 603.60V268.70H417.50V341.50" stroke="#000" stroke-width="2.3" fill="none" stroke-linejoin="miter"/><path d="M387.10 248.40V257.80M383.40 250.75L390.80 255.45M383.40 255.45L390.80 250.75" stroke="#000" stroke-width="1.75" fill="none"/><circle cx="387.10" cy="253.10" r="1.49" fill="#000"/><path d="M397.90 248.40V257.80M394.20 250.75L401.60 255.45M394.20 255.45L401.60 250.75" stroke="#000" stroke-width="1.75" fill="none"/><circle cx="397.90" cy="253.10" r="1.49" fill="#000"/><path d="M408.70 248.40V257.80M405.00 250.75L412.40 255.45M405.00 255.45L412.40 250.75" stroke="#000" stroke-width="1.75" fill="none"/><circle cx="408.70" cy="253.10" r="1.49" fill="#000"/><path d="M419.50 248.40V257.80M415.80 250.75L423.20 255.45M415.80 255.45L423.20 250.75" stroke="#000" stroke-width="1.75" fill="none"/><circle cx="419.50" cy="253.10" r="1.49" fill="#000"/><path d="M445.50 298.60V268.70H471.00V279.80" stroke="#000" stroke-width="2.3" fill="none" stroke-linejoin="miter"/><path d="M454.05 253.00V259.90M451.45 254.72L456.65 258.18M451.45 258.18L456.65 254.72" stroke="#000" stroke-width="1.45" fill="none"/><circle cx="454.05" cy="256.45" r="1.23" fill="#000"/><path d="M461.75 253.00V259.90M459.15 254.72L464.35 258.18M459.15 258.18L464.35 254.72" stroke="#000" stroke-width="1.45" fill="none"/><circle cx="461.75" cy="256.45" r="1.23" fill="#000"/><path d="M477.80 279.80V268.70H503.10V279.80" stroke="#000" stroke-width="2.3" fill="none" stroke-linejoin="miter"/><text x="0" y="0" font-family="Liberation Serif" font-weight="normal" font-size="100" fill="#000" transform="translate(484.672 259.462) scale(0.11100 0.14600)">ns</text><path d="M549.90 130.90V59.90H663.70V89.50" stroke="#000" stroke-width="2.15" fill="none" stroke-linejoin="miter"/><path d="M594.95 44.40V51.30M592.35 46.12L597.55 49.58M592.35 49.58L597.55 46.12" stroke="#000" stroke-width="1.45" fill="none"/><circle cx="594.95" cy="47.85" r="1.23" fill="#000"/><path d="M602.65 44.40V51.30M600.05 46.12L605.25 49.58M600.05 49.58L605.25 46.12" stroke="#000" stroke-width="1.45" fill="none"/><circle cx="602.65" cy="47.85" r="1.23" fill="#000"/><path d="M610.35 44.40V51.30M607.75 46.12L612.95 49.58M607.75 49.58L612.95 46.12" stroke="#000" stroke-width="1.45" fill="none"/><circle cx="610.35" cy="47.85" r="1.23" fill="#000"/><path d="M618.05 44.40V51.30M615.45 46.12L620.65 49.58M615.45 49.58L620.65 46.12" stroke="#000" stroke-width="1.45" fill="none"/><circle cx="618.05" cy="47.85" r="1.23" fill="#000"/><path d="M578.90 116.60V101.60H663.70V172.80" stroke="#000" stroke-width="2.15" fill="none" stroke-linejoin="miter"/><text x="0" y="0" font-family="Liberation Serif" font-weight="normal" font-size="100" fill="#000" transform="translate(615.971 92.262) scale(0.11100 0.14600)">ns</text><path d="M549.90 172.80V143.10H635.70V158.50" stroke="#000" stroke-width="2.15" fill="none" stroke-linejoin="miter"/><path d="M581.15 127.75V134.65M578.55 129.47L583.75 132.92M578.55 132.92L583.75 129.47" stroke="#000" stroke-width="1.45" fill="none"/><circle cx="581.15" cy="131.20" r="1.23" fill="#000"/><path d="M588.85 127.75V134.65M586.25 129.47L591.45 132.92M586.25 132.92L591.45 129.47" stroke="#000" stroke-width="1.45" fill="none"/><circle cx="588.85" cy="131.20" r="1.23" fill="#000"/><path d="M596.55 127.75V134.65M593.95 129.47L599.15 132.92M593.95 132.92L599.15 129.47" stroke="#000" stroke-width="1.45" fill="none"/><circle cx="596.55" cy="131.20" r="1.23" fill="#000"/><path d="M604.25 127.75V134.65M601.65 129.47L606.85 132.92M601.65 132.92L606.85 129.47" stroke="#000" stroke-width="1.45" fill="none"/><circle cx="604.25" cy="131.20" r="1.23" fill="#000"/><path d="M549.90 196.40V185.10H604.00V199.80" stroke="#000" stroke-width="2.15" fill="none" stroke-linejoin="miter"/><path d="M564.75 170.05V176.95M562.15 171.78L567.35 175.22M562.15 175.22L567.35 171.78" stroke="#000" stroke-width="1.45" fill="none"/><circle cx="564.75" cy="173.50" r="1.23" fill="#000"/><path d="M572.45 170.05V176.95M569.85 171.78L575.05 175.22M569.85 175.22L575.05 171.78" stroke="#000" stroke-width="1.45" fill="none"/><circle cx="572.45" cy="173.50" r="1.23" fill="#000"/><path d="M580.15 170.05V176.95M577.55 171.78L582.75 175.22M577.55 175.22L582.75 171.78" stroke="#000" stroke-width="1.45" fill="none"/><circle cx="580.15" cy="173.50" r="1.23" fill="#000"/><path d="M587.85 170.05V176.95M585.25 171.78L590.45 175.22M585.25 175.22L590.45 171.78" stroke="#000" stroke-width="1.45" fill="none"/><circle cx="587.85" cy="173.50" r="1.23" fill="#000"/><path d="M610.00 199.80V185.10H663.70V241.30" stroke="#000" stroke-width="2.15" fill="none" stroke-linejoin="miter"/><text x="0" y="0" font-family="Liberation Serif" font-weight="normal" font-size="100" fill="#000" transform="translate(631.572 176.162) scale(0.11100 0.14600)">ns</text><path d="M549.90 603.60V227.00H575.80V256.60" stroke="#000" stroke-width="2.15" fill="none" stroke-linejoin="miter"/><path d="M546.20 205.95V215.35M542.50 208.30L549.90 213.00M542.50 213.00L549.90 208.30" stroke="#000" stroke-width="1.75" fill="none"/><circle cx="546.20" cy="210.65" r="1.49" fill="#000"/><path d="M557.00 205.95V215.35M553.30 208.30L560.70 213.00M553.30 213.00L560.70 208.30" stroke="#000" stroke-width="1.75" fill="none"/><circle cx="557.00" cy="210.65" r="1.49" fill="#000"/><path d="M567.80 205.95V215.35M564.10 208.30L571.50 213.00M564.10 213.00L571.50 208.30" stroke="#000" stroke-width="1.75" fill="none"/><circle cx="567.80" cy="210.65" r="1.49" fill="#000"/><path d="M578.60 205.95V215.35M574.90 208.30L582.30 213.00M574.90 213.00L582.30 208.30" stroke="#000" stroke-width="1.75" fill="none"/><circle cx="578.60" cy="210.65" r="1.49" fill="#000"/><path d="M581.60 241.30V227.00H635.70V241.30" stroke="#000" stroke-width="2.15" fill="none" stroke-linejoin="miter"/><text x="0" y="0" font-family="Liberation Serif" font-weight="normal" font-size="100" fill="#000" transform="translate(603.572 217.562) scale(0.11100 0.14600)">ns</text><path d="M578.90 280.40V268.40H604.00V280.40" stroke="#000" stroke-width="2.15" fill="none" stroke-linejoin="miter"/><text x="0" y="0" font-family="Liberation Serif" font-weight="normal" font-size="100" fill="#000" transform="translate(585.772 259.462) scale(0.11100 0.14600)">ns</text><path d="M610.00 280.40V268.40H632.40V280.40" stroke="#000" stroke-width="2.15" fill="none" stroke-linejoin="miter"/><text x="0" y="0" font-family="Liberation Serif" font-weight="normal" font-size="100" fill="#000" transform="translate(615.872 259.462) scale(0.11100 0.14600)">ns</text><path d="M638.60 280.40V268.40H663.70V280.40" stroke="#000" stroke-width="2.15" fill="none" stroke-linejoin="miter"/><text x="0" y="0" font-family="Liberation Serif" font-weight="normal" font-size="100" fill="#000" transform="translate(645.672 259.462) scale(0.11100 0.14600)">ns</text><path d="M47.9 226.3V616.5" stroke="#000" stroke-width="1.8" fill="none"/><text x="0" y="0" font-family="Liberation Sans" font-weight="bold" font-size="100" fill="#000" transform="translate(31.233 621.017) scale(0.12680 0.15700)">0</text><path d="M40.7 551.12H48.8" stroke="#000" stroke-width="1.9"/><text x="0" y="0" font-family="Liberation Sans" font-weight="bold" font-size="100" fill="#000" transform="translate(24.132 556.233) scale(0.12680 0.15700)">20</text><path d="M40.7 486.33H48.8" stroke="#000" stroke-width="1.9"/><text x="0" y="0" font-family="Liberation Sans" font-weight="bold" font-size="100" fill="#000" transform="translate(24.132 491.448) scale(0.12680 0.15700)">40</text><path d="M40.7 421.55H48.8" stroke="#000" stroke-width="1.9"/><text x="0" y="0" font-family="Liberation Sans" font-weight="bold" font-size="100" fill="#000" transform="translate(24.132 426.664) scale(0.12680 0.15700)">60</text><path d="M40.7 356.76H48.8" stroke="#000" stroke-width="1.9"/><text x="0" y="0" font-family="Liberation Sans" font-weight="bold" font-size="100" fill="#000" transform="translate(24.132 361.880) scale(0.12680 0.15700)">80</text><path d="M40.7 291.98H48.8" stroke="#000" stroke-width="1.9"/><text x="0" y="0" font-family="Liberation Sans" font-weight="bold" font-size="100" fill="#000" transform="translate(17.032 297.096) scale(0.12680 0.15700)">100</text><path d="M40.7 227.20H48.8" stroke="#000" stroke-width="1.9"/><text x="0" y="0" font-family="Liberation Sans" font-weight="bold" font-size="100" fill="#000" transform="translate(17.032 232.312) scale(0.12680 0.15700)">120</text><path d="M40.8 615.90H683.6" stroke="#000" stroke-width="2.2"/><path d="M123.45 615.90V624.5" stroke="#000" stroke-width="2"/><text x="0" y="0" font-family="Liberation Sans" font-weight="bold" font-size="100" fill="#000" transform="translate(112.011 640.172) scale(0.13300 0.16400)">24h</text><path d="M284.50 615.90V624.5" stroke="#000" stroke-width="2"/><text x="0" y="0" font-family="Liberation Sans" font-weight="bold" font-size="100" fill="#000" transform="translate(273.128 640.172) scale(0.13300 0.16400)">48h</text><path d="M446.00 615.90V624.5" stroke="#000" stroke-width="2"/><text x="0" y="0" font-family="Liberation Sans" font-weight="bold" font-size="100" fill="#000" transform="translate(434.495 640.172) scale(0.13300 0.16400)">72h</text><path d="M607.10 615.90V624.5" stroke="#000" stroke-width="2"/><text x="0" y="0" font-family="Liberation Sans" font-weight="bold" font-size="100" fill="#000" transform="translate(595.595 640.172) scale(0.13300 0.16400)">96h</text><text x="0" y="0" font-family="Liberation Serif" font-weight="bold" font-size="100" fill="#000" transform="translate(298.318 663.113) scale(0.14076 0.17556)">Exposure time (hours)</text><text x="0" y="0" font-family="Liberation Serif" font-weight="bold" font-size="100" fill="#000" transform="translate(0 479.8) rotate(-90) translate(-0.392 14.515) scale(0.19614 0.18500)">Mortality (%)</text><path d="M50.3 723.5H68.9M50.3 726.4H68.9M50.3 729.4H68.9M50.3 732.4H68.9M50.9 723.5V726.4M57.1 723.5V726.4M63.2 723.5V726.4M54.5 726.4V729.4M60.5 726.4V729.4M66.5 726.4V729.4M50.9 729.4V732.4M57.1 729.4V732.4M63.2 729.4V732.4M54.5 732.4V734.7M60.5 732.4V734.7M66.5 732.4V734.7" stroke="#ff2a2a" stroke-width="1.15" fill="none"/><rect x="178.6" y="723.8" width="17.3" height="10.3" fill="url(#pBL)" stroke="#333" stroke-width="1"/><rect x="287.8" y="724.0" width="17.5" height="10.0" fill="#fff" stroke="#555" stroke-width="1"/><path d="M288.3 729.3H304.8" stroke="#4caf4c" stroke-width="1.4"/><rect x="416.8" y="723.9" width="16.6" height="10.1" fill="#fff" stroke="#333" stroke-width="1.2"/><path d="M417.4 729.5H432.8M421 724.4V733.6M426.4 724.4V733.6M431.4 724.4V733.6" stroke="#c81ec8" stroke-width="1.1"/><rect x="548.8" y="723.9" width="16.9" height="10.1" fill="url(#pOL)" stroke="#666" stroke-width="1"/><text x="0" y="0" font-family="Liberation Serif" font-weight="bold" font-size="100" fill="#000" transform="translate(78.172 734.700) scale(0.14554 0.17000)">Control</text><text x="0" y="0" font-family="Liberation Serif" font-weight="bold" font-size="100" fill="#000" transform="translate(206.153 734.020) scale(0.14687 0.17000)">4 µL/L</text><text x="0" y="0" font-family="Liberation Serif" font-weight="bold" font-size="100" fill="#000" transform="translate(315.608 734.190) scale(0.14894 0.17000)">12 µL/L</text><text x="0" y="0" font-family="Liberation Serif" font-weight="bold" font-size="100" fill="#000" transform="translate(443.844 734.700) scale(0.15700 0.17000)">16 µl/L</text><text x="0" y="0" font-family="Liberation Serif" font-weight="bold" font-size="100" fill="#000" transform="translate(576.375 734.700) scale(0.15623 0.17000)">20 µl/L</text></svg></body></html>
